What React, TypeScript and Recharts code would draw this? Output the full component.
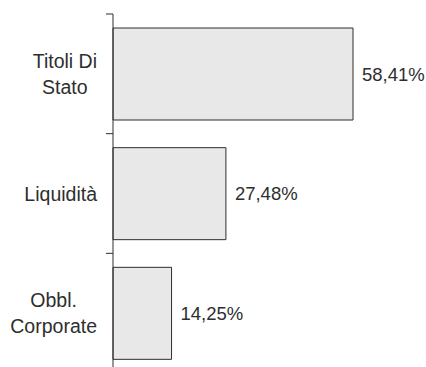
import { BarChart, Bar, XAxis, YAxis, LabelList } from "recharts";

// Composizione del portafoglio per asset class (%)
const categories = ["Titoli Di Stato", "Liquidità", "Obbl. Corporate"];
const weights = [58.41, 27.48, 14.25];

const data = categories.map((name, i) => ({ name, value: weights[i] }));

const W = 426;
const H = 388;
const VIEW_H = 367;
const MARGIN = { top: 14, right: 73, bottom: 15, left: 0 };
const AXIS_W = 113;
const BAND = (H - MARGIN.top - MARGIN.bottom) / categories.length;
const FONT = '"Helvetica Neue", Helvetica, Arial, "Liberation Sans", sans-serif';
const INK = "#2e2e2e";
const CAT_SIZE = 19.5;
const VAL_SIZE = 18.5;
const LINE_H = 26.5;

// spezza l'etichetta in righe di al massimo ~10 caratteri
function wrap(label: string, max = 10) {
    const lines: string[] = [];
    let cur = "";
    for (const w of label.split(" ")) {
        const next = cur ? cur + " " + w : w;
        if (cur && next.length > max) {
            lines.push(cur);
            cur = w;
        } else {
            cur = next;
        }
    }
    if (cur) lines.push(cur);
    return lines;
}

let ctx: CanvasRenderingContext2D | null = null;
function textWidth(s: string) {
    if (!ctx) ctx = document.createElement("canvas").getContext("2d");
    if (!ctx) return s.length * CAT_SIZE * 0.5;
    ctx.font = `${CAT_SIZE}px ${FONT}`;
    return ctx.measureText(s).width;
}

// etichetta su più righe, centrata, con il bordo destro allineato;
// la tacca dell'asse segna il limite superiore della categoria
function CategoryTick({ y, payload }: any) {
    const lines = wrap(String(payload.value));
    const block = Math.max(...lines.map(textWidth));
    const cx = AXIS_W - 16 - block / 2;
    const first = y - ((lines.length - 1) * LINE_H) / 2 + 7;
    const edge = y - BAND / 2;
    return (
        <g>
            <line x1={AXIS_W - 7} x2={AXIS_W} y1={edge} y2={edge} stroke={INK} />
            <text textAnchor="middle" fontSize={CAT_SIZE} fill={INK} fontFamily={FONT}>
                {lines.map((l, i) => (
                    <tspan key={i} x={cx} y={first + i * LINE_H}>
                        {l}
                    </tspan>
                ))}
            </text>
        </g>
    );
}

const pct = (v: any) => Number(v).toFixed(2).replace(".", ",") + "%";

export default function App() {
    return (
        <div
            style={{
                position: "absolute",
                left: 0,
                top: 0,
                width: W,
                height: VIEW_H,
                overflow: "hidden",
                background: "#fff",
            }}
        >
            <BarChart
                width={W}
                height={H}
                layout="vertical"
                data={data}
                margin={MARGIN}
            >
                <XAxis type="number" hide domain={[0, Math.max(...weights)]} />
                <YAxis
                    type="category"
                    dataKey="name"
                    width={AXIS_W}
                    axisLine={{ stroke: INK }}
                    tickLine={false}
                    interval={0}
                    tick={<CategoryTick />}
                />
                <Bar
                    dataKey="value"
                    fill="#e8e8e8"
                    stroke={INK}
                    strokeWidth={1}
                    barSize={92}
                    isAnimationActive={false}
                >
                    <LabelList
                        dataKey="value"
                        position="right"
                        offset={9}
                        formatter={pct}
                        fill={INK}
                        fontSize={VAL_SIZE}
                        fontFamily={FONT}
                    />
                </Bar>
            </BarChart>
        </div>
    );
}
